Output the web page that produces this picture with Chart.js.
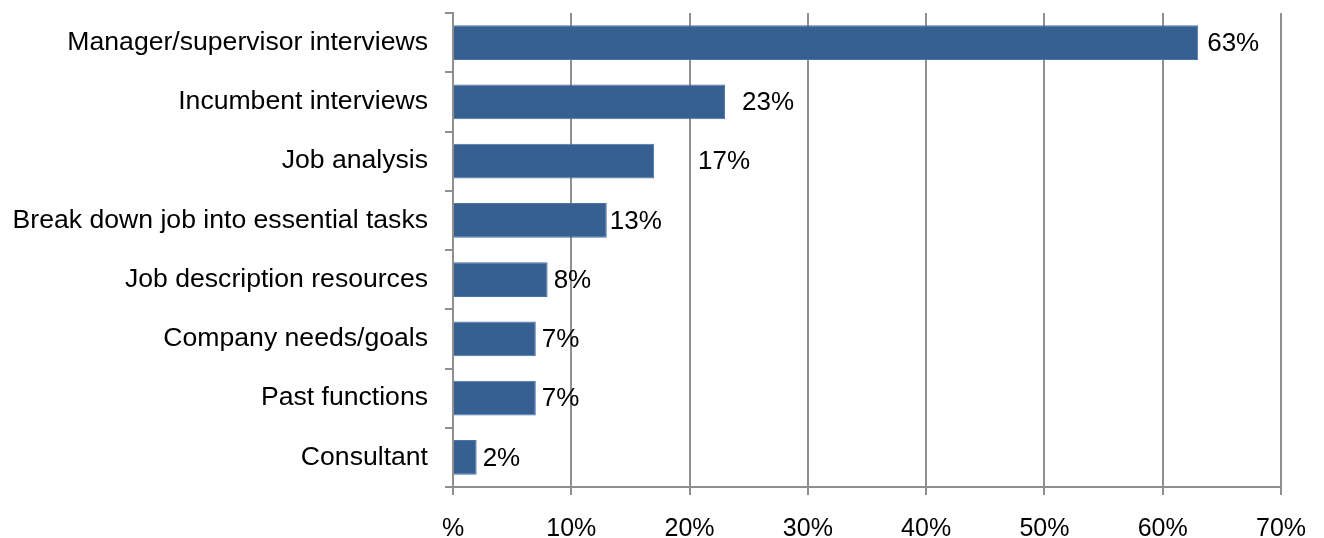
<!DOCTYPE html>
<html>
<head>
<meta charset="utf-8">
<script src="https://cdn.jsdelivr.net/npm/chart.js@4/dist/chart.umd.min.js"></script>
<style>
  html, body { margin: 0; padding: 0; background: #fff; }
  #wrap { width: 1324px; height: 538px; }
</style>
</head>
<body>
<div id="wrap"><canvas id="methodsChart" width="1324" height="538"></canvas></div>
<script>
let categories = [
  "Manager/supervisor interviews",
  "Incumbent interviews",
  "Job analysis",
  "Break down job into essential tasks",
  "Job description resources",
  "Company needs/goals",
  "Past functions",
  "Consultant",
];
let shares = [63, 23, 17, 13, 8, 7, 7, 2];
let xTicks = [0, 10, 20, 30, 40, 50, 60, 70];

// extra gap between bar end and its label, in px
let labelGap = [9, 17, 44, 3, 6, 6, 6, 6];

let fontFace = "'Liberation Sans', Arial, sans-serif";
let gridGray = "#8f8f8f";

const valueLabels = {
  id: "valueLabels",
  afterDatasetsDraw(chart) {
    let ctx = chart.ctx;
    let meta = chart.getDatasetMeta(0);
    ctx.save();
    ctx.font = "26px " + fontFace;
    ctx.fillStyle = "#000";
    ctx.textAlign = "left";
    ctx.textBaseline = "middle";
    meta.data.forEach((bar, i) => {
      ctx.fillText(shares[i] + "%", bar.x + labelGap[i], bar.y + 1);
    });
    ctx.restore();
  },
};

let methodsChart = new Chart(document.getElementById("methodsChart").getContext("2d"), {
  type: "bar",
  data: {
    labels: categories,
    datasets: [
      {
        data: shares,
        backgroundColor: "#376092",
        borderColor: "#4a74a8",
        borderWidth: 1,
        barPercentage: 0.59,
        categoryPercentage: 1,
      },
    ],
  },
  options: {
    indexAxis: "y",
    responsive: false,
    animation: false,
    layout: { padding: { left: 0, right: 43, top: 13, bottom: 0 } },
    plugins: {
      legend: { display: false },
      tooltip: { enabled: false },
    },
    scales: {
      x: {
        min: 0,
        max: 70,
        afterBuildTicks(scale) {
          scale.ticks = xTicks.map((v) => ({ value: v }));
        },
        afterFit(scale) {
          scale.height = 51;
          scale.paddingLeft = 0;
          scale.paddingRight = 0;
        },
        ticks: {
          color: "#000",
          font: { family: fontFace, size: 25 },
          padding: 19,
          maxRotation: 0,
          callback: (v) => (v === 0 ? "%" : v + "%"),
        },
        grid: { color: gridGray, lineWidth: 2, tickLength: 8 },
        border: { color: gridGray, width: 2 },
      },
      y: {
        afterFit(scale) {
          scale.width = 453;
          scale.paddingTop = 0;
          scale.paddingBottom = 0;
        },
        ticks: {
          color: "#000",
          font: { family: fontFace, size: 26.6 },
          padding: 17,
        },
        grid: {
          color: gridGray,
          lineWidth: 2,
          tickLength: 8,
          drawOnChartArea: false,
        },
        border: { color: gridGray, width: 2 },
      },
    },
  },
  plugins: [valueLabels],
});
</script>
</body>
</html>
